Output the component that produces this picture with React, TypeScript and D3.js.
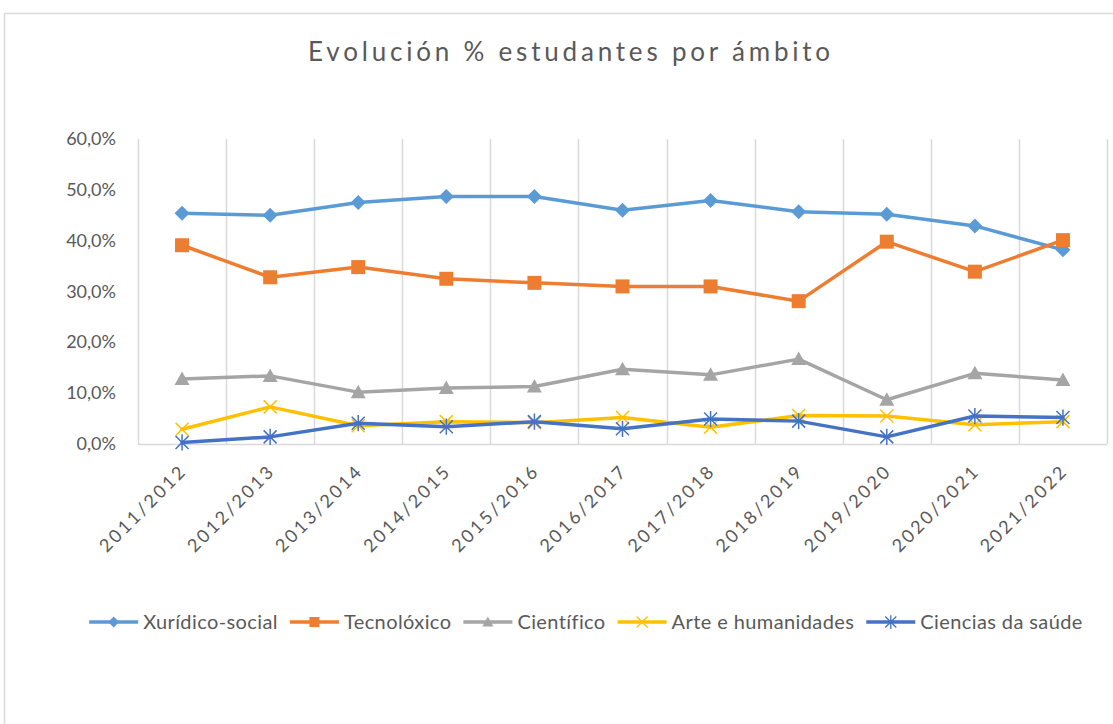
import React, { useEffect, useRef } from "react";
import * as d3 from "d3";

const categories = [
  "2011/2012",
  "2012/2013",
  "2013/2014",
  "2014/2015",
  "2015/2016",
  "2016/2017",
  "2017/2018",
  "2018/2019",
  "2019/2020",
  "2020/2021",
  "2021/2022",
];

const seriesNames = [
  "Xurídico-social",
  "Tecnolóxico",
  "Científico",
  "Arte e humanidades",
  "Ciencias da saúde",
];

const xuridico = [45.4, 45.0, 47.5, 48.7, 48.7, 46.0, 47.9, 45.7, 45.2, 42.9, 38.2];
const tecnoloxico = [39.1, 32.8, 34.8, 32.5, 31.7, 31.0, 31.0, 28.1, 39.8, 33.9, 40.1];
const cientifico = [12.8, 13.4, 10.2, 11.0, 11.3, 14.7, 13.6, 16.7, 8.7, 13.9, 12.6];
const arte = [2.9, 7.3, 3.6, 4.4, 4.2, 5.2, 3.3, 5.6, 5.5, 3.8, 4.4];
const saude = [0.3, 1.4, 4.1, 3.4, 4.4, 3.0, 4.9, 4.5, 1.4, 5.5, 5.2];

const yTicks = [0, 10, 20, 30, 40, 50, 60];

const colors = ["#5B9BD5", "#ED7D31", "#A5A5A5", "#FFC000", "#4472C4"];
const markerKinds = ["diamond", "square", "triangle", "x", "star"];

const title = "Evolución % estudantes por ámbito";

const width = 1113;
const height = 724;
const left = 138;
const right = 1107;
const top = 139;
const bottom = 444;
const textColor = "#595959";
const gridColor = "#D9D9D9";
const fontFamily = "Lato, 'Open Sans', sans-serif";

// marker path centred on 0,0 with half-size r
const markerPath = (kind: string, r: number) => {
  switch (kind) {
    case "diamond":
      return `M0,${-r}L${r},0L0,${r}L${-r},0Z`;
    case "square":
      return `M${-r},${-r}H${r}V${r}H${-r}Z`;
    case "triangle":
      return `M0,${-r}L${r},${r * 0.8}L${-r},${r * 0.8}Z`;
    case "x":
      return `M${-r},${-r}L${r},${r}M${-r},${r}L${r},${-r}`;
    default:
      return `M${-r},${-r}L${r},${r}M${-r},${r}L${r},${-r}M0,${-r * 1.25}V${r * 1.25}`;
  }
};

const App: React.FC = () => {
  const svgRef = useRef<SVGSVGElement | null>(null);

  useEffect(() => {
    if (!svgRef.current) return;
    const svg = d3.select(svgRef.current);
    svg.selectAll("*").remove();

    const series = [xuridico, tecnoloxico, cientifico, arte, saude];

    const xScale = d3.scaleBand<string>().domain(categories).range([left, right]);
    const yScale = d3.scaleLinear().domain([0, 60]).range([bottom, top]);
    const cx = (c: string) => (xScale(c) ?? 0) + xScale.bandwidth() / 2;

    // chart border
    svg
      .append("rect")
      .attr("x", 4.5)
      .attr("y", 13.5)
      .attr("width", width + 20)
      .attr("height", height + 20)
      .attr("fill", "white")
      .attr("stroke", gridColor)
      .attr("stroke-width", 1.5);

    // title
    svg
      .append("text")
      .attr("x", 571)
      .attr("y", 61)
      .attr("text-anchor", "middle")
      .attr("font-family", fontFamily)
      .attr("font-size", 26)
      .attr("letter-spacing", 3.8)
      .attr("fill", textColor)
      .text(title);

    // vertical grid lines at category edges
    const edges = categories.map((c) => xScale(c) ?? 0).concat([right]);
    svg
      .selectAll(".x-grid")
      .data(edges)
      .enter()
      .append("line")
      .attr("class", "x-grid")
      .attr("x1", (d) => Math.round(d) + 0.5)
      .attr("x2", (d) => Math.round(d) + 0.5)
      .attr("y1", top)
      .attr("y2", bottom)
      .attr("stroke", gridColor)
      .attr("stroke-width", 1.5);

    // category axis line
    svg
      .append("line")
      .attr("x1", left)
      .attr("x2", right)
      .attr("y1", bottom + 0.5)
      .attr("y2", bottom + 0.5)
      .attr("stroke", gridColor)
      .attr("stroke-width", 1.5);

    // y labels
    svg
      .selectAll(".y-label")
      .data(yTicks)
      .enter()
      .append("text")
      .attr("class", "y-label")
      .attr("x", 116)
      .attr("y", (d) => yScale(d) + 6)
      .attr("text-anchor", "end")
      .attr("font-family", fontFamily)
      .attr("font-size", 18)
      .attr("fill", textColor)
      .text((d) => d.toFixed(1).replace(".", ",") + "%");

    // x labels, rotated
    svg
      .selectAll(".x-label")
      .data(categories)
      .enter()
      .append("text")
      .attr("class", "x-label")
      .attr("transform", (d) => `translate(${cx(d) + 6},${bottom + 28}) rotate(-45)`)
      .attr("text-anchor", "end")
      .attr("font-family", fontFamily)
      .attr("font-size", 18)
      .attr("letter-spacing", 2.6)
      .attr("fill", textColor)
      .text((d) => d);

    // lines and markers
    const line = d3
      .line<number>()
      .x((_, i) => cx(categories[i]))
      .y((d) => yScale(d));

    series.forEach((values, si) => {
      const g = svg.append("g");
      g.append("path")
        .attr("d", line(values) ?? "")
        .attr("fill", "none")
        .attr("stroke", colors[si])
        .attr("stroke-width", 3.5)
        .attr("stroke-linejoin", "round")
        .attr("stroke-linecap", "round");

      const kind = markerKinds[si];
      const stroked = kind === "x" || kind === "star";
      g.selectAll("path.marker")
        .data(values)
        .enter()
        .append("path")
        .attr("class", "marker")
        .attr("transform", (d, i) => `translate(${cx(categories[i])},${yScale(d)})`)
        .attr("d", markerPath(kind, kind === "square" ? 7 : stroked ? 6.5 : 7.5))
        .attr("fill", stroked ? "none" : colors[si])
        .attr("stroke", colors[si])
        .attr("stroke-width", stroked ? 1.5 : 0);
    });

    // legend, laid out from measured text widths and centred
    const legendY = 622;
    const sampleW = 49;
    const gapText = 5;
    const gapItem = 12;
    const legend = svg.append("g");
    const items = seriesNames.map((name, si) => {
      const g = legend.append("g");
      g.append("line")
        .attr("x1", 0)
        .attr("x2", sampleW)
        .attr("y1", legendY)
        .attr("y2", legendY)
        .attr("stroke", colors[si])
        .attr("stroke-width", 3.5);
      const kind = markerKinds[si];
      const stroked = kind === "x" || kind === "star";
      g.append("path")
        .attr("transform", `translate(${sampleW / 2},${legendY})`)
        .attr("d", markerPath(kind, kind === "square" ? 5 : 5.5))
        .attr("fill", stroked ? "none" : colors[si])
        .attr("stroke", colors[si])
        .attr("stroke-width", stroked ? 1.3 : 0);
      const t = g
        .append("text")
        .attr("x", sampleW + gapText)
        .attr("y", legendY + 7)
        .attr("font-family", fontFamily)
        .attr("font-size", 20)
        .attr("letter-spacing", 0.4)
        .attr("fill", textColor)
        .text(name);
      const w = (t.node() as SVGTextElement).getComputedTextLength();
      return { g, w: sampleW + gapText + w };
    });
    const total = d3.sum(items, (d) => d.w) + gapItem * (items.length - 1);
    let xPos = 586 - total / 2;
    items.forEach((it) => {
      it.g.attr("transform", `translate(${xPos},0)`);
      xPos += it.w + gapItem;
    });
  }, []);

  return (
    <svg
      ref={svgRef}
      width={width}
      height={height}
      style={{ position: "absolute", left: 0, top: 0, display: "block", background: "white" }}
    />
  );
};

export default App;
